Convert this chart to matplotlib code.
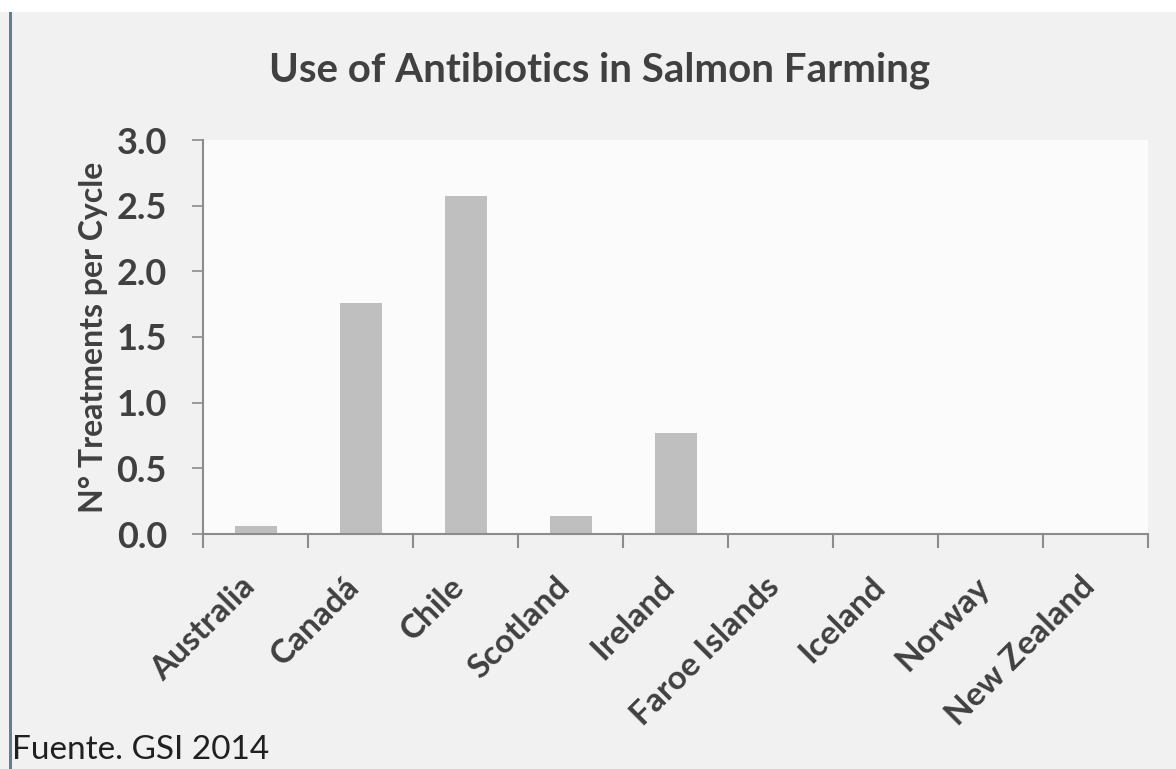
import matplotlib.pyplot as plt
import matplotlib.transforms as mtransforms
from matplotlib.patches import Rectangle
import numpy as np

plt.rcParams['font.family'] = ['Lato', 'DejaVu Sans']

# Data
countries = ['Australia', 'Canadá', 'Chile', 'Scotland', 'Ireland',
             'Faroe Islands', 'Iceland', 'Norway', 'New Zealand']
treatments = [0.06, 1.76, 2.57, 0.14, 0.77, 0.0, 0.0, 0.01, 0.0]
yticks = [0.0, 0.5, 1.0, 1.5, 2.0, 2.5, 3.0]

text_col = '#404040'
axis_col = '#8c8c8c'

fig = plt.figure(figsize=(11.76, 7.69), dpi=100)
fig.patch.set_facecolor('#f1f1f1')

# white strip on top and blue-gray left border
fig.patches.append(Rectangle((0, 1 - 12 / 769), 1, 12 / 769, transform=fig.transFigure,
                             facecolor='white', edgecolor='none', zorder=0))
fig.patches.append(Rectangle((9 / 1176, 0), 3 / 1176, 1 - 12 / 769, transform=fig.transFigure,
                             facecolor='#5f7f96', edgecolor='none', zorder=0))

ax = fig.add_axes([203 / 1176, 1 - 534 / 769, (1148 - 203) / 1176, (534 - 140) / 769])
ax.set_facecolor('#fbfbfb')

x = np.arange(len(countries))
ax.bar(x, treatments, width=0.4, color='#bfbfbf', zorder=2)

ax.set_xlim(-0.5, len(countries) - 0.5)
ax.set_ylim(0, 3.0)
ax.set_yticks(yticks)
ax.set_yticklabels([f'{v:.1f}' for v in yticks], fontsize=26, fontweight='bold', color=text_col)

# category boundaries as tick marks
ax.set_xticks(np.arange(-0.5, len(countries), 1.0))
ax.set_xticklabels([])
ax.set_xticks(x, minor=True)
ax.set_xticklabels(countries, minor=True, rotation=45, ha='right', va='top',
                   rotation_mode='anchor', fontsize=24, fontweight='bold', color=text_col)
ax.tick_params(axis='x', which='minor', length=0, pad=27)
ax.tick_params(axis='x', which='major', length=10, width=1.5, color=axis_col, direction='out')
ax.tick_params(axis='y', length=8, width=1.2, color=axis_col, direction='out', pad=18)

# nudge the slanted labels to the left
shift = mtransforms.ScaledTranslation(-0.16, 0, fig.dpi_scale_trans)
for lab in ax.get_xticklabels(minor=True):
    lab.set_transform(lab.get_transform() + shift)

for s in ['top', 'right']:
    ax.spines[s].set_visible(False)
for s in ['left', 'bottom']:
    ax.spines[s].set_color(axis_col)
    ax.spines[s].set_linewidth(1.5)

ax.set_ylabel('N° Treatments per Cycle', fontsize=23, fontweight='bold', color=text_col, labelpad=6)

fig.text(600 / 1176, 1 - 70 / 769, 'Use of Antibiotics in Salmon Farming', ha='center', va='center',
         fontsize=29, fontweight='bold', color=text_col)
fig.text(12 / 1176, 1 - 750 / 769, 'Fuente. GSI 2014', ha='left', va='center',
         fontsize=24, color='#202020')

fig.savefig('out.png', dpi=100, facecolor=fig.get_facecolor())
